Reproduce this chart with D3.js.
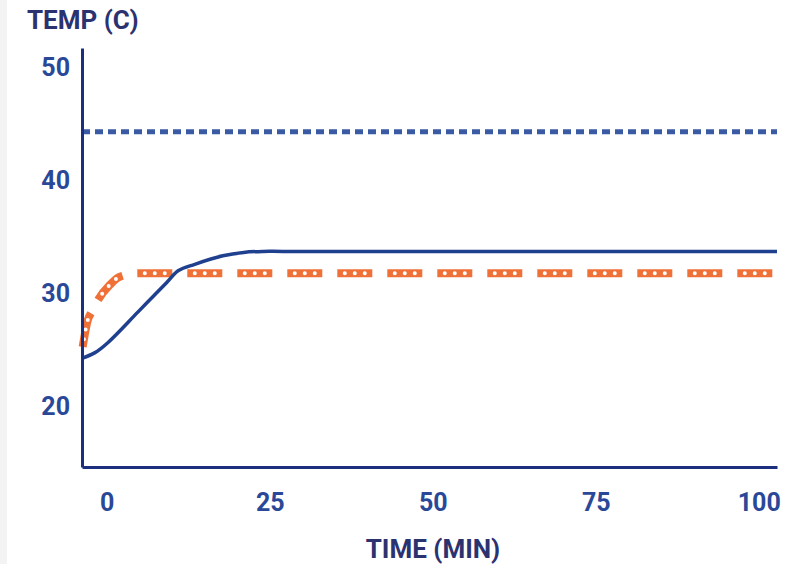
<!DOCTYPE html>
<html>
<head>
<meta charset="utf-8">
<script src="https://cdn.jsdelivr.net/npm/d3@7"></script>
<style>
body{margin:0;background:#fff;}
svg text{font-family:Roboto,"Liberation Sans",sans-serif;font-weight:700;}
</style>
</head>
<body>
<div id="chart"></div>
<script>
// time (min) / temp (C)
var blueTime = [-3.8,-1.8,0.2,4.8,9.2,11.0,13.5,17.8,21.0,24.0,27.0,102.8];
var blueTemp = [24.3,24.8,25.7,28.4,31.0,32.05,32.6,33.35,33.65,33.74,33.74,33.74];
var orangeTime = [-3.7,-2.9,-2.3,-1.4,0.5,2.0,4.8,102.8];
var orangeTemp = [25.3,27.7,28.4,29.4,30.8,31.5,31.8,31.8];
var limitTime = [-3.8,102.8];
var limitTemp = [44.3,44.3];
var xTicks = [0,25,50,75,100];
var yTicks = [20,30,40,50];

var width = 800, height = 564;
var svg = d3.select("#chart").append("svg")
			.attr("width",width)
			.attr("height",height);

svg.append("rect")
   .attr("x",0).attr("y",0)
   .attr("width",7).attr("height",height)
   .attr("fill","#f3f3f3");

var xScale = d3.scaleLinear()
			   .domain([-3.8,102.8])
			   .range([82,777]);
var yScale = d3.scaleLinear()
			   .domain([14.7,51.7])
			   .range([467,48]);

function zip(xs,ys){
	return xs.map(function(d,i){ return {t:d,v:ys[i]}; });
}

var line = d3.line()
			 .x(function(d){return xScale(d.t);})
			 .y(function(d){return yScale(d.v);})
			 .curve(d3.curveMonotoneX);

var smoothLine = d3.line()
			 .x(function(d){return xScale(d.t);})
			 .y(function(d){return yScale(d.v);})
			 .curve(d3.curveCatmullRom.alpha(0.5));

// limit line
svg.append("path")
   .attr("d",line(zip(limitTime,limitTemp)))
   .attr("fill","none")
   .attr("stroke","#3a5ba3")
   .attr("stroke-width",5)
   .attr("stroke-dasharray","8,5");

// orange dashed line with white dots
var orangeD = line(zip(orangeTime,orangeTemp));
svg.append("path")
   .attr("d",orangeD)
   .attr("fill","none")
   .attr("stroke","#f07138")
   .attr("stroke-width",8)
   .attr("stroke-dasharray","35,15");
svg.append("path")
   .attr("d",orangeD)
   .attr("fill","none")
   .attr("stroke","#fff")
   .attr("stroke-width",4)
   .attr("stroke-linecap","round")
   .attr("stroke-dasharray","0,10,0,10,0,30")
   .attr("stroke-dashoffset",-7.5);

// blue solid
svg.append("path")
   .attr("d",smoothLine(zip(blueTime,blueTemp)))
   .attr("fill","none")
   .attr("stroke","#1f3f8f")
   .attr("stroke-width",3.5);

var axisY = d3.axisLeft(yScale)
			  .tickValues(yTicks)
			  .tickSize(0)
			  .tickSizeOuter(0)
			  .tickPadding(12);
var axisX = d3.axisBottom(xScale)
			  .tickValues(xTicks)
			  .tickSize(0)
			  .tickSizeOuter(0)
			  .tickPadding(44);

var gy = svg.append("g")
			.attr("transform","translate(82,0)")
			.call(axisY);
var gx = svg.append("g")
			.attr("transform","translate(0,467)")
			.call(axisX);

[gx,gy].forEach(function(g){
	g.select(".domain").attr("stroke","#1b2f7e").attr("stroke-width",3);
	g.selectAll("text")
	 .attr("fill","#2a4898")
	 .style("font-size","25px");
});
gx.selectAll("text").attr("dy","0");

svg.append("text")
   .attr("x",27).attr("y",29)
   .attr("fill","#2b3270")
   .style("font-size","26px")
   .text("TEMP (C)");

svg.append("text")
   .attr("x",433).attr("y",558)
   .attr("text-anchor","middle")
   .attr("fill","#2b3270")
   .style("font-size","26px")
   .text("TIME (MIN)");
</script>
</body>
</html>
